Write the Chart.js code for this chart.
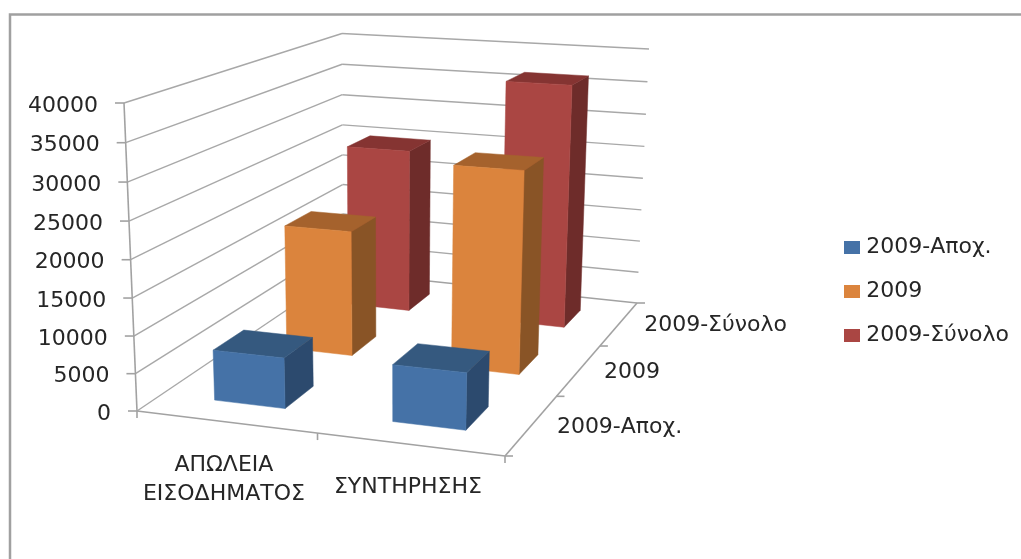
<!DOCTYPE html>
<html>
<head>
<meta charset="utf-8">
<script src="https://cdn.jsdelivr.net/npm/chart.js@4"></script>
<style>
    html, body { margin: 0; padding: 0; background: #fff; overflow: hidden; }
    canvas { display: block; }
</style>
</head>
<body>
<canvas id="chart3d" width="1021" height="559"></canvas>
<script>
const categories = [['ΑΠΩΛΕΙΑ', 'ΕΙΣΟΔΗΜΑΤΟΣ'], ['ΣΥΝΤΗΡΗΣΗΣ']];
const seriesNames = ['2009-Αποχ.', '2009', '2009-Σύνολο'];
const valuesApoch = [6800, 7500];
const values2009 = [18000, 28500];
const valuesSynolo = [25000, 36500];
const yTicks = [0, 5000, 10000, 15000, 20000, 25000, 30000, 35000, 40000];

const FONT_SIZE = 22;
const FONT = FONT_SIZE + 'px "DejaVu Sans"';
const TEXT = '#262626';
const AXIS = '#a2a2a2';
const GRID = '#a8a8a8';

// front, top and right side shades per series
const SHADES = [
    ['#4572a7', '#35597f', '#2c4a6e'],
    ['#db843d', '#a5622d', '#895426'],
    ['#aa4643', '#853432', '#6e2c2a']
];

// Screen corners of the 3D box: floor and ceiling, front-left, front-right, back-right, back-left
const FLOOR = [[137, 411], [505, 456], [637, 303], [343, 272]];
const CEIL = [[124, 103], [513, 128], [649, 49], [342, 33.5]];
const DEPTH_BAR = 0.4; // share of a depth slot filled by a bar

function quadMap(q) {
    const [[x0, y0], [x1, y1], [x2, y2], [x3, y3]] = q;
    const dx1 = x1 - x2, dx2 = x3 - x2, sx = x0 - x1 + x2 - x3;
    const dy1 = y1 - y2, dy2 = y3 - y2, sy = y0 - y1 + y2 - y3;
    const den = dx1 * dy2 - dx2 * dy1;
    const g = (sx * dy2 - dx2 * sy) / den;
    const h = (dx1 * sy - sx * dy1) / den;
    const a = x1 - x0 + g * x1, b = x3 - x0 + h * x3;
    const d = y1 - y0 + g * y1, e = y3 - y0 + h * y3;
    return (s, r) => {
        const w = g * s + h * r + 1;
        return [(a * s + b * r + x0) / w, (d * s + e * r + y0) / w];
    };
}

const floorAt = quadMap(FLOOR);
const ceilAt = quadMap(CEIL);

// s: along categories, r: along depth, t: up the value axis (all 0..1)
function project(s, r, t) {
    const f = floorAt(s, r), c = ceilAt(s, r);
    const k = t / (t + (1 - t) * 1.036);
    return [f[0] + (c[0] - f[0]) * k, f[1] + (c[1] - f[1]) * k];
}

function seg(ctx, a, b, color, width) {
    ctx.strokeStyle = color;
    ctx.lineWidth = width;
    ctx.beginPath();
    ctx.moveTo(a[0], a[1]);
    ctx.lineTo(b[0], b[1]);
    ctx.stroke();
}

function face(ctx, pts, color) {
    ctx.fillStyle = color;
    ctx.strokeStyle = color;
    ctx.lineWidth = 0.5;
    ctx.beginPath();
    pts.forEach((p, i) => (i ? ctx.lineTo(p[0], p[1]) : ctx.moveTo(p[0], p[1])));
    ctx.closePath();
    ctx.fill();
    ctx.stroke();
}

// Legend swatch as an image, so the text can sit closer than the default box allows
function swatch(color) {
    const c = document.createElement('canvas');
    c.width = 16;
    c.height = 13;
    const g = c.getContext('2d');
    g.fillStyle = color;
    g.fillRect(0, 0, 16, 13);
    return c;
}

const box3d = {
    id: 'box3d',
    beforeDraw(chart) {
        const ctx = chart.ctx;
        ctx.save();
        ctx.fillStyle = '#fff';
        ctx.fillRect(0, 0, chart.width, chart.height);
        ctx.strokeStyle = '#a0a0a0';
        ctx.lineWidth = 2.5;
        ctx.strokeRect(10, 14.5, chart.width + 40, chart.height + 40);
        ctx.restore();
    },
    // the flat bars are replaced by the boxes below
    beforeDatasetsDraw(chart) {
        const ctx = chart.ctx, area = chart.chartArea;
        const { x: xs, y: ys, z: zs } = chart.scales;
        const ft = v => (ys.bottom - ys.getPixelForValue(v)) / (ys.bottom - ys.top);
        const fz = v => (zs.getPixelForValue(v) - zs.left) / (zs.right - zs.left);
        const fx = v => (xs.getPixelForValue(v) - xs.left) / (xs.right - xs.left);

        ctx.save();
        ctx.lineCap = 'butt';

        // walls
        ys.ticks.forEach(tick => {
            const t = ft(tick.value);
            seg(ctx, project(0, 0, t), project(0, 1, t), GRID, 1.4);
            if (t > 0) seg(ctx, project(0, 1, t), project(1, 1, t), GRID, 1.4);
        });
        // floor and axes
        seg(ctx, project(0, 0, 0), project(1, 0, 0), AXIS, 1.6);
        seg(ctx, project(1, 0, 0), project(1, 1, 0), AXIS, 1.6);
        seg(ctx, project(0, 1, 0), project(1, 1, 0), AXIS, 1.4);
        seg(ctx, project(0, 0, 0), project(0, 0, 1), AXIS, 1.6);

        // tick marks
        ys.ticks.forEach(tick => {
            const p = project(0, 0, ft(tick.value));
            seg(ctx, [p[0] - 9, p[1]], p, AXIS, 1.6);
        });
        for (let i = 0; i <= categories.length; i++) {
            const p = project(i / categories.length, 0, 0);
            seg(ctx, p, [p[0], p[1] + 7], AXIS, 1.6);
        }
        for (let j = 0; j <= seriesNames.length; j++) {
            const p = project(1, j / seriesNames.length, 0);
            seg(ctx, p, [p[0] + 8, p[1]], AXIS, 1.6);
        }

        // boxes, back row first
        for (let d = chart.data.datasets.length - 1; d >= 0; d--) {
            const meta = chart.getDatasetMeta(d);
            const slot = 1 / seriesNames.length;
            const r0 = fz(d) - slot * DEPTH_BAR / 2, r1 = fz(d) + slot * DEPTH_BAR / 2;
            meta.data.forEach(bar => {
                const s0 = (bar.x - bar.width / 2 - area.left) / area.width;
                const s1 = (bar.x + bar.width / 2 - area.left) / area.width;
                const t = (bar.base - bar.y) / (ys.bottom - ys.top);
                const [front, top, side] = SHADES[d];
                face(ctx, [project(s1, r0, 0), project(s1, r1, 0), project(s1, r1, t), project(s1, r0, t)], side);
                face(ctx, [project(s0, r0, t), project(s1, r0, t), project(s1, r1, t), project(s0, r1, t)], top);
                face(ctx, [project(s0, r0, 0), project(s1, r0, 0), project(s1, r0, t), project(s0, r0, t)], front);
            });
        }

        // axis text
        ctx.font = FONT;
        ctx.fillStyle = TEXT;
        ctx.textBaseline = 'middle';
        ctx.textAlign = 'right';
        ys.ticks.forEach(tick => {
            const p = project(0, 0, ft(tick.value));
            ctx.fillText(String(tick.value), p[0] - 26, p[1] + 3);
        });
        ctx.textAlign = 'center';
        categories.forEach((lines, i) => {
            const p = project(fx(i), 0, 0);
            lines.forEach((line, k) => ctx.fillText(line, p[0] - 2.5, p[1] + 43 + k * 29));
        });
        ctx.textAlign = 'left';
        seriesNames.forEach((name, j) => {
            const p = project(1, fz(j), 0);
            ctx.fillText(name, p[0] + 25, p[1] + 2);
        });
        ctx.restore();
        return false;
    }
};

new Chart(document.getElementById('chart3d'), {
    type: 'bar',
    data: {
        labels: categories,
        datasets: [
            { label: seriesNames[0], data: valuesApoch, backgroundColor: SHADES[0][0] },
            { label: seriesNames[1], data: values2009, backgroundColor: SHADES[1][0] },
            { label: seriesNames[2], data: valuesSynolo, backgroundColor: SHADES[2][0] }
        ]
    },
    options: {
        responsive: false,
        animation: false,
        layout: { padding: { top: 24, right: 2 } },
        datasets: { bar: { grouped: false, barPercentage: 0.8, categoryPercentage: 0.5 } },
        plugins: {
            tooltip: { enabled: false },
            legend: {
                position: 'right',
                labels: {
                    font: { family: 'DejaVu Sans', size: FONT_SIZE },
                    color: TEXT,
                    usePointStyle: true,
                    boxWidth: 6,
                    boxHeight: 13,
                    padding: 22,
                    generateLabels: chart =>
                        Chart.defaults.plugins.legend.labels.generateLabels(chart).map((item, i) => ({
                            ...item,
                            pointStyle: swatch(SHADES[i][0])
                        }))
                }
            }
        },
        scales: {
            x: { display: false, offset: true },
            y: { display: false, min: 0, max: 40000, afterBuildTicks: s => { s.ticks = yTicks.map(value => ({ value })); } },
            z: { display: false, type: 'category', axis: 'x', offset: true, labels: seriesNames }
        }
    },
    plugins: [box3d]
});
</script>
</body>
</html>
